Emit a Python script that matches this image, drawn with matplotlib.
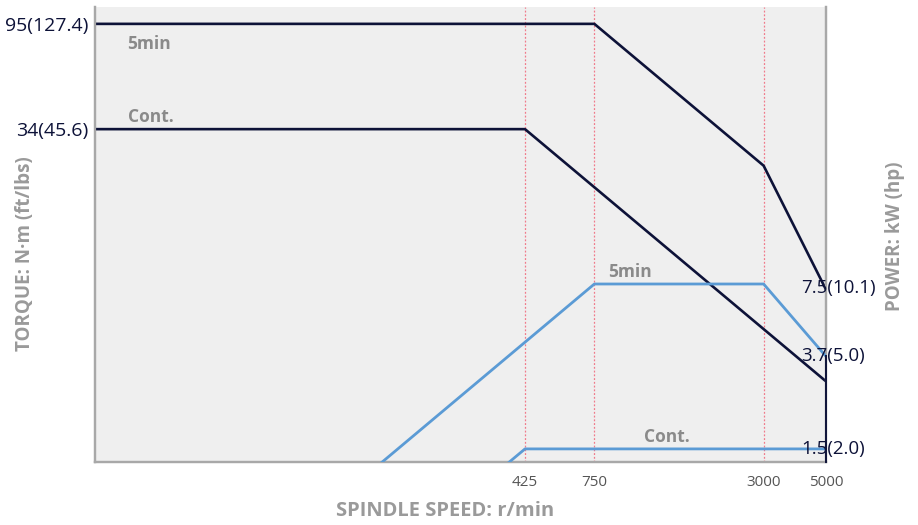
import matplotlib
matplotlib.use("Agg")
import matplotlib.pyplot as plt
from matplotlib.ticker import NullLocator, FixedLocator, FixedFormatter

plt.rcParams['font.family'] = ['Open Sans', 'DejaVu Sans']

# data (log-log)
speed_ticks = [425, 750, 3000, 5000]
speed_guides = [425, 750, 3000]

torque_5min_speed = [12.6, 750, 3000, 5000]
torque_5min = [95, 95, 23.8, 7.1]
torque_cont_speed = [12.6, 425, 5000]
torque_cont = [34, 34, 2.9]

power_5min_speed = [100, 750, 3000, 5000]
power_5min = [1.0, 7.5, 7.5, 3.7]
power_cont_speed = [300, 425, 5000]
power_cont = [1.06, 1.5, 1.5]

torque_ticks = [95, 34]
torque_tick_labels = ["95(127.4)", "34(45.6)"]
power_ticks = [7.5, 3.7, 1.5]
power_tick_labels = ["7.5(10.1)", "3.7(5.0)", "1.5(2.0)"]

navy = "#0d1238"
blue = "#5b9bd5"
gray_txt = "#8a8a8a"
spine = "#a8a8a8"

fig = plt.figure(figsize=(9.18, 5.25), dpi=100)
ax = fig.add_axes([95 / 918, 63 / 525, 731 / 918, 455 / 525])
ax.set_facecolor("#efefef")
ax.set_xscale("log")
ax.set_yscale("log")
ax.set_xlim(12.56, 5000)
ax.set_ylim(1.32, 112)

for s in speed_guides:
    ax.axvline(s, color="#f07a8a", lw=0.9, ls=(0, (1.5, 1.5)), zorder=1)

ax.plot(torque_5min_speed, torque_5min, color=navy, lw=1.9, zorder=3)
ax.plot(torque_cont_speed, torque_cont, color=navy, lw=1.9, zorder=3)

ax2 = ax.twinx()
ax2.set_yscale("log")
ax2.set_ylim(1.32, 112)
ax2.plot(power_5min_speed, power_5min, color=blue, lw=2.0, zorder=3)
ax2.plot(power_cont_speed, power_cont, color=blue, lw=2.0, zorder=3)
ax2.plot([5000, 5000], [power_5min[-1], 1.32], color=navy, lw=1.4, clip_on=False, zorder=4)

for a in (ax, ax2):
    a.spines["top"].set_visible(False)
    for side in ("left", "bottom", "right"):
        a.spines[side].set_color(spine)
        a.spines[side].set_linewidth(1.6)
    a.xaxis.set_minor_locator(NullLocator())
    a.yaxis.set_minor_locator(NullLocator())

ax.xaxis.set_major_locator(FixedLocator(speed_ticks))
ax.xaxis.set_major_formatter(FixedFormatter([str(s) for s in speed_ticks]))
ax.tick_params(axis="x", length=0, pad=9, labelsize=11, labelcolor="#555555")

ax.yaxis.set_major_locator(FixedLocator(torque_ticks))
ax.yaxis.set_major_formatter(FixedFormatter(torque_tick_labels))
ax.tick_params(axis="y", length=0, pad=5, labelsize=14, labelcolor=navy)

ax2.yaxis.set_major_locator(NullLocator())
ax2.tick_params(axis="y", length=0)

for v, lab in zip(power_ticks, power_tick_labels):
    ax2.annotate(lab, xy=(5000, v), xytext=(-25, -4 if v == 7.5 else 0),
                 textcoords="offset pixels", ha="left", va="center",
                 fontsize=13.5, color=navy, annotation_clip=False, zorder=5)

lab_kw = dict(color=gray_txt, fontsize=12.5, fontweight="bold", ha="left")
ax.text(16.4, 85, "5min", va="top", **lab_kw)
ax.text(16.4, 35, "Cont.", va="bottom", **lab_kw)
ax2.text(841, 7.7, "5min", va="bottom", **lab_kw)
ax2.text(1130, 1.54, "Cont.", va="bottom", **lab_kw)

ax_lab = dict(color="#9a9a9a", fontweight="bold", ha="center", va="center")
fig.text(445 / 918, 1 - 511 / 525, "SPINDLE SPEED: r/min", fontsize=14.5, **ax_lab)
fig.text(25 / 918, 1 - 254 / 525, "TORQUE: N·m (ft/lbs)", rotation=90, fontsize=13.5, **ax_lab)
fig.text(895 / 918, 1 - 236 / 525, "POWER: kW (hp)", rotation=90, fontsize=13.5, **ax_lab)

fig.savefig("out.png", dpi=100)
